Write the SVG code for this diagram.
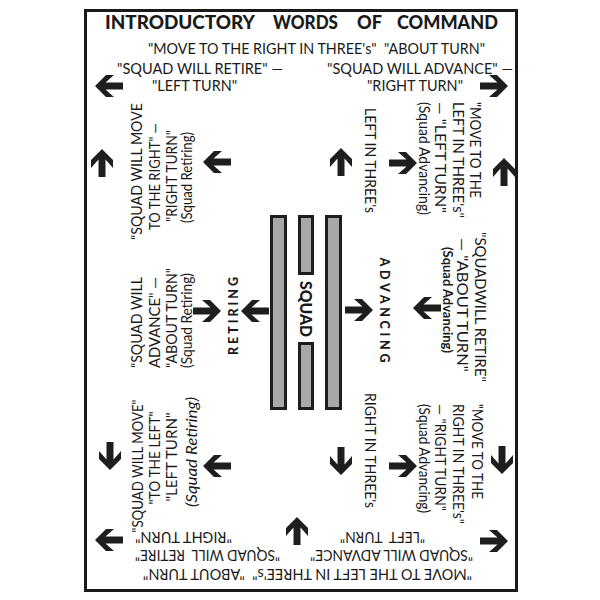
<svg xmlns="http://www.w3.org/2000/svg" xmlns:xlink="http://www.w3.org/1999/xlink" width="600" height="600" viewBox="0 0 600 600">
<style>
.t{font-family:Lato,"Liberation Sans","DejaVu Sans",sans-serif;font-size:15px;fill:#1a1a1a}
.b{font-weight:bold}
.k{font-weight:900}
.i{font-style:italic}
.bar{fill:#a8a8a8;stroke:#1e1e1e;stroke-width:3}
.ar{fill:#1e1e1e}
</style>
<defs>
<path id="arr" d="M-14,0 L-3,-11 L5,-11 L-3.5,-3.5 L14,-3.5 L14,3.5 L-3.5,3.5 L5,11 L-3,11 Z"/>
</defs>
<rect x="0" y="0" width="600" height="600" fill="#fff"/>
<rect x="85.5" y="10.5" width="431" height="580" fill="#fff" stroke="#1a1a1a" stroke-width="3"/>

<g id="title">
<text class="t k" y="29" style="font-size:18px"><tspan x="105" textLength="150" lengthAdjust="spacingAndGlyphs">INTRODUCTORY</tspan><tspan x="273" textLength="65" lengthAdjust="spacingAndGlyphs">WORDS</tspan><tspan x="357" textLength="25" lengthAdjust="spacingAndGlyphs">OF</tspan><tspan x="397" textLength="101" lengthAdjust="spacingAndGlyphs">COMMAND</tspan></text>
</g>

<g id="top-commands">
<text class="t" x="148" y="54" xml:space="preserve" textLength="337" lengthAdjust="spacingAndGlyphs">"MOVE TO THE RIGHT IN THREE's"  "ABOUT TURN"</text>
<text class="t" x="117" y="74" textLength="166" lengthAdjust="spacingAndGlyphs">"SQUAD WILL RETIRE" —</text>
<text class="t" x="327" y="74" textLength="186" lengthAdjust="spacingAndGlyphs">"SQUAD WILL ADVANCE" —</text>
<text class="t" x="152" y="91" textLength="85" lengthAdjust="spacingAndGlyphs">"LEFT TURN"</text>
<text class="t" x="367" y="91" textLength="96" lengthAdjust="spacingAndGlyphs">"RIGHT TURN"</text>
</g>

<g id="top-left-block" class="t" text-anchor="middle">
<text transform="translate(142,171.5) rotate(-90)" textLength="137" lengthAdjust="spacingAndGlyphs">"SQUAD WILL MOVE</text>
<text transform="translate(160,176.5) rotate(-90)" textLength="107" lengthAdjust="spacingAndGlyphs">TO THE RIGHT" —</text>
<text transform="translate(177,176) rotate(-90)" textLength="92" lengthAdjust="spacingAndGlyphs">"RIGHT TURN"</text>
<text transform="translate(192,177.5) rotate(-90)" textLength="91" lengthAdjust="spacingAndGlyphs">(Squad Retiring)</text>
</g>

<g id="mid-left-block" class="t">
<text transform="translate(142,368) rotate(-90)" textLength="91" lengthAdjust="spacingAndGlyphs">"SQUAD WILL</text>
<text transform="translate(160,368) rotate(-90)" textLength="91" lengthAdjust="spacingAndGlyphs">ADVANCE" —</text>
<text transform="translate(177,368) rotate(-90)" textLength="100" lengthAdjust="spacingAndGlyphs">"ABOUT TURN"</text>
<text transform="translate(192,368) rotate(-90)" textLength="95" lengthAdjust="spacingAndGlyphs">(Squad Retiring)</text>
</g>

<g id="bottom-left-block" class="t" text-anchor="middle">
<text transform="translate(143,466) rotate(-90)" textLength="133" lengthAdjust="spacingAndGlyphs">"SQUAD WILL MOVE"</text>
<text transform="translate(160,458) rotate(-90)" textLength="93" lengthAdjust="spacingAndGlyphs">"TO THE LEFT"</text>
<text transform="translate(177,457) rotate(-90)" textLength="89" lengthAdjust="spacingAndGlyphs">"LEFT TURN"</text>
<text class="i" transform="translate(197,452) rotate(-90)" textLength="110" lengthAdjust="spacingAndGlyphs">(Squad Retiring)</text>
</g>

<g id="left-in-threes" class="t">
<text transform="translate(365,108) rotate(90)" textLength="105" lengthAdjust="spacingAndGlyphs">LEFT IN THREE's</text>
</g>

<g id="top-right-block" class="t">
<text transform="translate(470,102) rotate(90)" textLength="96" lengthAdjust="spacingAndGlyphs">"MOVE TO THE</text>
<text transform="translate(453,102) rotate(90)" textLength="116" lengthAdjust="spacingAndGlyphs">LEFT IN THREE's"</text>
<text transform="translate(435,102) rotate(90)" textLength="111" lengthAdjust="spacingAndGlyphs">— "LEFT TURN"</text>
<text transform="translate(419,102) rotate(90)" textLength="113" lengthAdjust="spacingAndGlyphs">(Squad Advancing)</text>
</g>

<g id="mid-right-block" class="t" text-anchor="middle">
<text transform="translate(475,307) rotate(90)" textLength="150" lengthAdjust="spacingAndGlyphs">"SQUADWILL RETIRE"</text>
<text transform="translate(457,305) rotate(90)" textLength="134" lengthAdjust="spacingAndGlyphs">— "ABOUT TURN"</text>
<text class="b" transform="translate(443,300) rotate(90)" style="font-size:14px" textLength="106" lengthAdjust="spacingAndGlyphs">(Squad Advancing)</text>
</g>

<g id="right-in-threes" class="t">
<text transform="translate(365,393) rotate(90)" textLength="115" lengthAdjust="spacingAndGlyphs">RIGHT IN THREE's</text>
</g>

<g id="bottom-right-block" class="t">
<text transform="translate(472,404) rotate(90)" textLength="95" lengthAdjust="spacingAndGlyphs">"MOVE TO THE</text>
<text transform="translate(453,404) rotate(90)" textLength="120" lengthAdjust="spacingAndGlyphs">RIGHT IN THREE's"</text>
<text transform="translate(435,404) rotate(90)" textLength="107" lengthAdjust="spacingAndGlyphs">— "RIGHT TURN"</text>
<text transform="translate(419,404) rotate(90)" textLength="109" lengthAdjust="spacingAndGlyphs">(Squad Advancing)</text>
</g>

<g id="bottom-commands" class="t">
<text transform="translate(232,532) rotate(180)" textLength="97" lengthAdjust="spacingAndGlyphs">"RIGHT TURN"</text>
<text transform="translate(425,532) rotate(180)" xml:space="preserve" textLength="85" lengthAdjust="spacingAndGlyphs">"LEFT  TURN"</text>
<text transform="translate(280,550) rotate(180)" xml:space="preserve" textLength="145" lengthAdjust="spacingAndGlyphs">"SQUAD WILL  RETIRE"</text>
<text transform="translate(473,550) rotate(180)" textLength="163" lengthAdjust="spacingAndGlyphs">"SQUAD WILL ADVANCE"</text>
<text transform="translate(472,569) rotate(180)" xml:space="preserve" textLength="329" lengthAdjust="spacingAndGlyphs">"MOVE TO THE LEFT IN THREE's"  "ABOUT TURN"</text>
</g>

<g id="squad">
<rect class="bar" x="271.5" y="216.5" width="14" height="192"/>
<rect class="bar" x="299.5" y="216.5" width="13" height="57"/>
<rect class="bar" x="299.5" y="343.5" width="13" height="65"/>
<rect class="bar" x="326.5" y="216.5" width="14" height="192"/>
<text class="t k" text-anchor="middle" transform="translate(300,309) rotate(90)" style="font-size:16px" textLength="56" lengthAdjust="spacingAndGlyphs">SQUAD</text>
</g>

<g id="retiring" class="t k">
<text text-anchor="middle" transform="translate(238,316) rotate(-90)" style="font-size:12.5px" textLength="78" lengthAdjust="spacing">RETIRING</text>
</g>
<g id="advancing" class="t k">
<text text-anchor="middle" transform="translate(380,310) rotate(90)" style="font-size:12.5px" textLength="105" lengthAdjust="spacing">ADVANCING</text>
</g>

<g id="connectors" class="ar">
<use xlink:href="#arr" href="#arr" transform="translate(109,86)"/>
<use xlink:href="#arr" href="#arr" transform="translate(494,86) rotate(180)"/>
<use xlink:href="#arr" href="#arr" transform="translate(102,163) rotate(90)"/>
<use xlink:href="#arr" href="#arr" transform="translate(217,162)"/>
<use xlink:href="#arr" href="#arr" transform="translate(341,162) rotate(90)"/>
<use xlink:href="#arr" href="#arr" transform="translate(403,163) rotate(180)"/>
<use xlink:href="#arr" href="#arr" transform="translate(504,172) rotate(90)"/>
<use xlink:href="#arr" href="#arr" transform="translate(207,311) rotate(180)"/>
<use xlink:href="#arr" href="#arr" transform="translate(255,311)"/>
<use xlink:href="#arr" href="#arr" transform="translate(359,310) rotate(180)"/>
<use xlink:href="#arr" href="#arr" transform="translate(427,308)"/>
<use xlink:href="#arr" href="#arr" transform="translate(110,456) rotate(-90)"/>
<use xlink:href="#arr" href="#arr" transform="translate(217,466)"/>
<use xlink:href="#arr" href="#arr" transform="translate(109,540)"/>
<use xlink:href="#arr" href="#arr" transform="translate(341,461) rotate(-90)"/>
<use xlink:href="#arr" href="#arr" transform="translate(403,466) rotate(180)"/>
<use xlink:href="#arr" href="#arr" transform="translate(502,460) rotate(-90)"/>
<use xlink:href="#arr" href="#arr" transform="translate(494,541) rotate(180)"/>
<use xlink:href="#arr" href="#arr" transform="translate(297,531) rotate(90)"/>
</g>
</svg>
